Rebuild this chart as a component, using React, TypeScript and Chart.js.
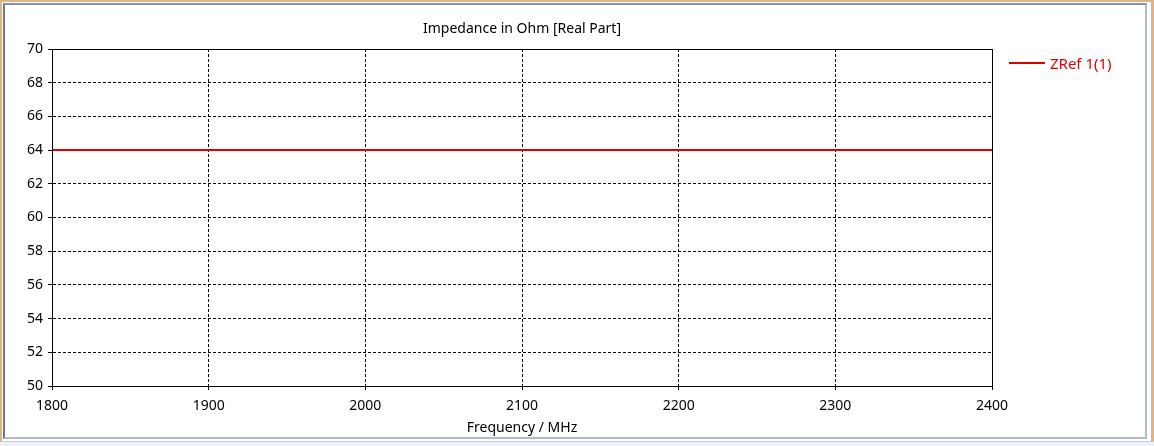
import React, { useEffect, useRef } from "react";
import { Chart, registerables } from "chart.js";

Chart.register(...registerables);

const chartTitle = "Impedance in Ohm [Real Part]";
const xAxisTitle = "Frequency / MHz";
const seriesLabel = "ZRef 1(1)";
const frequencies = [1800, 1900, 2000, 2100, 2200, 2300, 2400];
const zrefValues = [64, 64, 64, 64, 64, 64, 64];
const xTicks = [1800, 1900, 2000, 2100, 2200, 2300, 2400];
const yTicks = [50, 52, 54, 56, 58, 60, 62, 64, 66, 68, 70];

const FONT = "'Noto Sans', sans-serif";
const RED = "#e00000";

const decorPlugin = {
  id: "decor",
  afterDraw(chart: any) {
    const { ctx, chartArea } = chart;
    ctx.save();
    ctx.strokeStyle = "#000";
    ctx.lineWidth = 1;
    ctx.setLineDash([]);
    ctx.strokeRect(
      Math.round(chartArea.left) + 0.5,
      Math.round(chartArea.top) + 0.5,
      Math.round(chartArea.right - chartArea.left),
      Math.round(chartArea.bottom - chartArea.top)
    );
    ctx.fillStyle = "#000";
    ctx.font = `14px ${FONT}`;
    ctx.textAlign = "center";
    ctx.textBaseline = "middle";
    ctx.fillText(chartTitle, (chartArea.left + chartArea.right) / 2, 29);
    const ds = chart.data.datasets[0];
    ctx.strokeStyle = ds.borderColor;
    ctx.lineWidth = 2;
    ctx.beginPath();
    ctx.moveTo(1009, 63);
    ctx.lineTo(1045, 63);
    ctx.stroke();
    ctx.fillStyle = ds.borderColor;
    ctx.textAlign = "left";
    ctx.font = `15px ${FONT}`;
    ctx.fillText(ds.label, 1050, 65);
    ctx.restore();
  },
};

export default function App() {
  const ref = useRef<HTMLCanvasElement | null>(null);
  useEffect(() => {
    if (!ref.current) return;
    const chart = new Chart(ref.current, {
      type: "line",
      data: {
        datasets: [
          {
            label: seriesLabel,
            data: frequencies.map((f, i) => ({ x: f, y: zrefValues[i] })),
            borderColor: RED,
            backgroundColor: RED,
            borderWidth: 2,
            pointRadius: 0,
            tension: 0,
          },
        ],
      },
      options: {
        animation: false,
        responsive: false,
        maintainAspectRatio: false,
        layout: { padding: { left: 0, top: 49, right: 162, bottom: 10 } },
        plugins: {
          legend: { display: false },
          title: { display: false },
          tooltip: { enabled: false },
        },
        scales: {
          x: {
            type: "linear",
            min: 1800,
            max: 2400,
            afterBuildTicks: (axis: any) => {
              axis.ticks = xTicks.map((v) => ({ value: v }));
            },
            afterFit: (axis: any) => {
              axis.height = 50;
            },
            ticks: {
              color: "#000",
              font: { family: FONT, size: 14 },
              padding: 8,
              maxRotation: 0,
              callback: (v: any) => String(v),
            },
            grid: {
              color: "#000",
              lineWidth: 1,
              tickLength: 4,
              tickColor: "#000",
              drawTicks: true,
            },
            border: { display: true, color: "#000", width: 1, dash: [3, 2] },
            title: {
              display: true,
              text: xAxisTitle,
              color: "#000",
              font: { family: FONT, size: 14 },
              padding: { top: 0, bottom: 0 },
            },
          },
          y: {
            min: 50,
            max: 70,
            afterBuildTicks: (axis: any) => {
              axis.ticks = yTicks.map((v) => ({ value: v }));
            },
            afterFit: (axis: any) => {
              axis.width = 52;
            },
            ticks: {
              color: "#000",
              font: { family: FONT, size: 14 },
              padding: 5,
              callback: (v: any) => String(v),
            },
            grid: {
              color: "#000",
              lineWidth: 1,
              tickLength: 4,
              tickColor: "#000",
              drawTicks: true,
            },
            border: { display: true, color: "#000", width: 1, dash: [3, 2] },
          },
        },
      } as any,
      plugins: [decorPlugin],
    });
    return () => chart.destroy();
  }, []);

  return (
    <div
      style={{
        position: "fixed",
        left: 0,
        top: 0,
        width: 1154,
        height: 446,
        background: "#fff",
        overflow: "hidden",
      }}
    >
      <canvas
        ref={ref}
        width={1154}
        height={446}
        style={{ position: "absolute", left: 0, top: 0, width: 1154, height: 446 }}
      />
      <div
        style={{
          position: "absolute",
          left: 0,
          top: 0,
          width: 1154,
          height: 446,
          boxSizing: "border-box",
          borderLeft: "2px solid #d9b48c",
          borderTop: "2px solid #d9b48c",
          borderRight: "3px solid #d9b48c",
          pointerEvents: "none",
        }}
      />
      <div
        style={{
          position: "absolute",
          left: 3,
          top: 3,
          width: 1144,
          height: 436,
          boxSizing: "border-box",
          borderLeft: "2px solid #6f7784",
          borderTop: "2px solid #8a93a2",
          borderRight: "2px solid #aebbd0",
          borderBottom: "2px solid #aebbd0",
          pointerEvents: "none",
        }}
      />
      <div
        style={{
          position: "absolute",
          left: 0,
          top: 441,
          width: 1154,
          height: 5,
          background: "#eef2f8",
          borderTop: "1px solid #c4ccd8",
          pointerEvents: "none",
        }}
      />
    </div>
  );
}
